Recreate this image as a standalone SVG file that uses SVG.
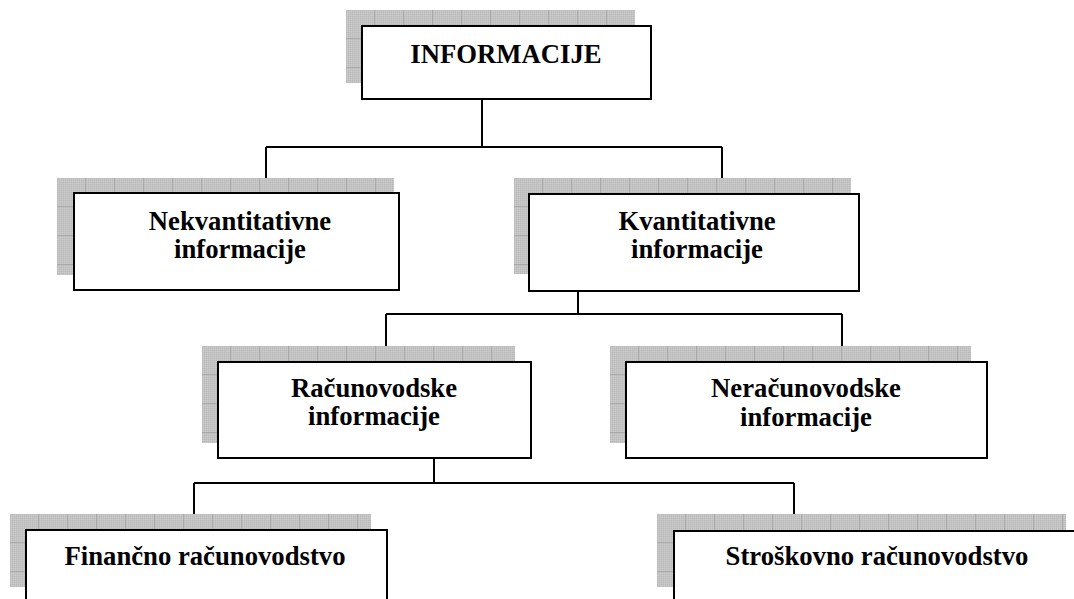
<svg xmlns="http://www.w3.org/2000/svg" width="1074" height="599" viewBox="0 0 1074 599">
  <style>
    .box { fill: #ffffff; stroke: #000000; stroke-width: 2; }
    .shadow { fill: url(#grid); }
    .lbl { font-family: "Liberation Serif", "Times New Roman", serif; font-weight: bold; font-size: 26.7px; fill: #000000; text-anchor: middle; }
    .conn { fill: none; stroke: #000000; stroke-width: 2; }
  </style>
  <defs>
    <pattern id="dots" patternUnits="userSpaceOnUse" width="2" height="2">
      <rect width="2" height="2" fill="#c3c3c3"/>
      <rect x="0" y="0" width="1" height="1" fill="#b8b8b8"/>
      <rect x="1" y="1" width="1" height="1" fill="#cccccc"/>
    </pattern>
    <pattern id="grid" patternUnits="userSpaceOnUse" width="29" height="29">
      <rect width="29" height="29" fill="url(#dots)"/>
      <path d="M28.5 0V29M0 28.5H29" stroke="#aaaaaa" stroke-width="1" fill="none"/>
    </pattern>
  </defs>

  <g id="connectors">
    <path class="conn" d="M482 99V147M266 147H722M266 147V193M722 147V194"/>
    <path class="conn" d="M578 291V314M386 314H842M386 314V362M842 314V362"/>
    <path class="conn" d="M434 458V483M194 483H794M194 483V530M794 483V531"/>
  </g>

  <g id="node-informacije">
    <g transform="translate(346,10)"><rect class="shadow" width="289" height="73"/></g>
    <rect class="box" x="362" y="26" width="289" height="73"/>
    <text class="lbl" x="506" y="63">INFORMACIJE</text>
  </g>

  <g id="node-nekvantitativne">
    <g transform="translate(57,178)"><rect class="shadow" width="337" height="97"/></g>
    <rect class="box" x="74" y="193" width="325" height="97"/>
    <text class="lbl" x="240" y="230">Nekvantitativne</text>
    <text class="lbl" x="240" y="258">informacije</text>
  </g>

  <g id="node-kvantitativne">
    <g transform="translate(514,178)"><rect class="shadow" width="337" height="96"/></g>
    <rect class="box" x="529" y="194" width="330" height="97"/>
    <text class="lbl" x="697" y="230">Kvantitativne</text>
    <text class="lbl" x="697" y="258">informacije</text>
  </g>

  <g id="node-racunovodske">
    <g transform="translate(202,346)"><rect class="shadow" width="313" height="97"/></g>
    <rect class="box" x="218" y="362" width="313" height="96"/>
    <text class="lbl" x="374" y="397">Računovodske</text>
    <text class="lbl" x="374" y="425">informacije</text>
  </g>

  <g id="node-neracunovodske">
    <g transform="translate(610,346)"><rect class="shadow" width="361" height="97"/></g>
    <rect class="box" x="626" y="362" width="361" height="96"/>
    <text class="lbl" x="806" y="397">Neračunovodske</text>
    <text class="lbl" x="806" y="426">informacije</text>
  </g>

  <g id="node-financno">
    <g transform="translate(10,514)"><rect class="shadow" width="361" height="73"/></g>
    <rect class="box" x="26" y="530" width="361" height="90"/>
    <text class="lbl" x="205" y="565">Finančno računovodstvo</text>
  </g>

  <g id="node-stroskovno">
    <g transform="translate(657,514)"><rect class="shadow" width="409" height="73"/></g>
    <rect class="box" x="674" y="531" width="420" height="90"/>
    <text class="lbl" x="877" y="565">Stroškovno računovodstvo</text>
  </g>
</svg>
